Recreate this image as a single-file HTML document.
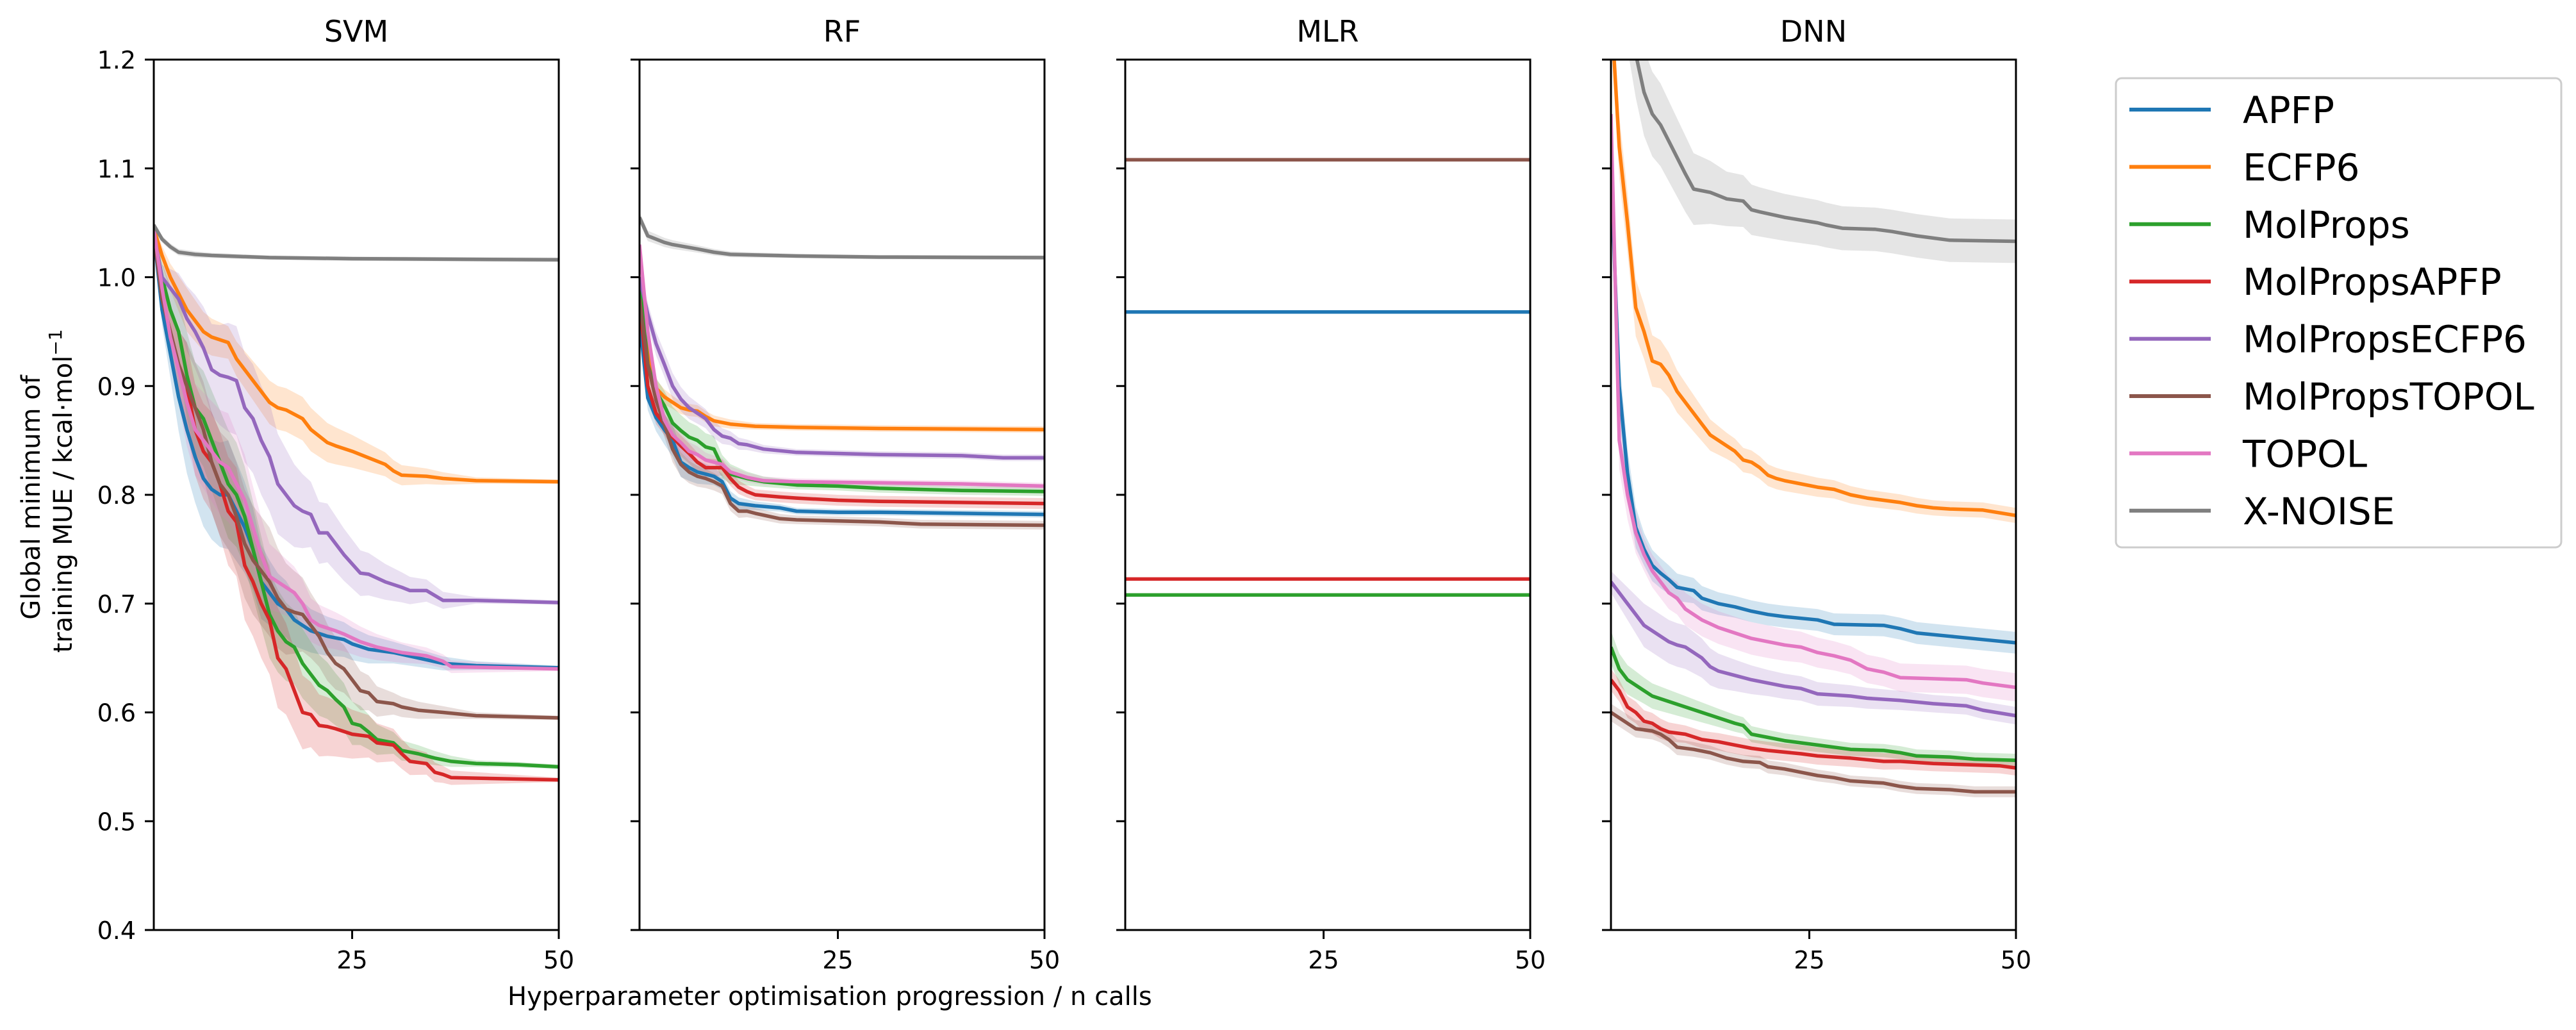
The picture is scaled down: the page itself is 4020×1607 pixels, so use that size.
<!DOCTYPE html>
<html><head><meta charset="utf-8">
<style>
html,body{margin:0;padding:0;background:#fff;}
svg{display:block;font-family:"DejaVu Sans","Liberation Sans",sans-serif;}
</style></head>
<body>
<svg id="chart" width="4020" height="1607" viewBox="0 0 4020 1607" xmlns="http://www.w3.org/2000/svg">
<g id="layer-bands"></g>
<g id="layer-lines"></g>
<g id="layer-axes"></g>
<g id="legend"></g>
</svg>
<script>
// ---- data ----
const panelTitles = ["SVM","RF","MLR","DNN"];
const seriesNames = ["APFP","ECFP6","MolProps","MolPropsAPFP","MolPropsECFP6","MolPropsTOPOL","TOPOL","X-NOISE"];
const seriesColors = ["#1f77b4","#ff7f0e","#2ca02c","#d62728","#9467bd","#8c564b","#e377c2","#7f7f7f"];
const yTicks = [0.4,0.5,0.6,0.7,0.8,0.9,1.0,1.1,1.2];
const yTickLabels = ["0.4","0.5","0.6","0.7","0.8","0.9","1.0","1.1","1.2"];
const xTicks = [25,50];
const xTickLabels = ["25","50"];
const bandN = [1,5,10,15,20,30,40,50];

// SVM
const svm_APFP_n = [1,2,3,4,5,6,7,8,9,10,11,12,13,14,15,16,17,18,19,20,22,24,25,27,30,33,36,40,50];
const svm_APFP_v = [1.04,0.97,0.93,0.89,0.86,0.835,0.815,0.805,0.80,0.80,0.785,0.77,0.75,0.72,0.71,0.70,0.695,0.685,0.68,0.675,0.67,0.667,0.663,0.658,0.655,0.65,0.645,0.643,0.641];
const svm_APFP_s = [0.005,0.04,0.05,0.03,0.02,0.01,0.004,0.002];
const svm_ECFP6_n = [1,2,3,5,7,8,10,11,13,15,16,17,19,20,22,23,25,27,29,30,31,34,36,40,50];
const svm_ECFP6_v = [1.045,1.02,1.0,0.97,0.95,0.945,0.94,0.925,0.905,0.885,0.88,0.878,0.87,0.86,0.848,0.845,0.84,0.834,0.828,0.822,0.818,0.817,0.815,0.813,0.812];
const svm_ECFP6_s = [0.005,0.02,0.015,0.02,0.02,0.01,0.003,0.002];
const svm_MolProps_n = [1,2,3,4,5,6,7,8,9,10,11,12,13,14,15,16,17,18,19,20,21,22,23,24,25,26,27,28,30,31,33,35,37,40,45,50];
const svm_MolProps_v = [1.04,1.0,0.97,0.95,0.91,0.88,0.87,0.85,0.83,0.81,0.80,0.78,0.75,0.72,0.69,0.675,0.665,0.66,0.645,0.635,0.625,0.62,0.612,0.605,0.59,0.588,0.582,0.575,0.572,0.565,0.562,0.558,0.555,0.553,0.552,0.55];
const svm_MolProps_s = [0.005,0.04,0.05,0.04,0.03,0.01,0.003,0.002];
const svm_MolPropsAPFP_n = [1,2,3,4,5,6,7,8,9,10,11,12,13,14,15,16,17,18,19,20,21,22,23,25,27,28,30,31,32,34,35,36,37,50];
const svm_MolPropsAPFP_v = [1.04,0.98,0.95,0.92,0.90,0.86,0.84,0.83,0.81,0.785,0.775,0.735,0.72,0.70,0.685,0.65,0.64,0.62,0.60,0.598,0.588,0.587,0.585,0.58,0.578,0.572,0.57,0.562,0.555,0.553,0.545,0.543,0.54,0.538];
const svm_MolPropsAPFP_s = [0.005,0.04,0.05,0.05,0.03,0.015,0.003,0.002];
const svm_MolPropsECFP6_n = [1,2,3,4,5,6,7,8,9,10,11,12,13,14,15,16,17,18,19,20,21,22,23,24,26,27,29,31,32,34,36,40,45,50];
const svm_MolPropsECFP6_v = [1.04,1.0,0.99,0.98,0.962,0.95,0.935,0.915,0.91,0.908,0.905,0.88,0.87,0.85,0.835,0.81,0.80,0.79,0.785,0.782,0.765,0.765,0.755,0.745,0.728,0.727,0.72,0.715,0.712,0.712,0.703,0.703,0.702,0.701];
const svm_MolPropsECFP6_s = [0.005,0.03,0.05,0.05,0.03,0.015,0.003,0.002];
const svm_MolPropsTOPOL_n = [1,2,3,4,5,6,7,8,9,10,11,12,13,14,15,16,17,18,19,20,21,22,23,24,25,26,27,28,30,31,33,36,40,50];
const svm_MolPropsTOPOL_v = [1.04,0.98,0.95,0.92,0.90,0.88,0.86,0.83,0.81,0.80,0.78,0.755,0.74,0.73,0.72,0.705,0.695,0.692,0.69,0.68,0.67,0.655,0.645,0.64,0.63,0.62,0.618,0.61,0.608,0.605,0.602,0.60,0.597,0.595];
const svm_MolPropsTOPOL_s = [0.005,0.04,0.05,0.05,0.03,0.01,0.003,0.002];
const svm_TOPOL_n = [1,2,3,4,5,6,7,8,9,10,11,12,13,14,15,16,17,18,19,20,21,23,24,26,28,31,34,36,37,50];
const svm_TOPOL_v = [1.045,0.99,0.945,0.915,0.885,0.86,0.85,0.84,0.83,0.825,0.81,0.795,0.77,0.745,0.725,0.72,0.715,0.71,0.70,0.685,0.68,0.675,0.672,0.665,0.66,0.655,0.652,0.647,0.642,0.64];
const svm_TOPOL_s = [0.005,0.04,0.05,0.03,0.02,0.01,0.004,0.002];
const svm_XNOISE_n = [1,2,3,4,6,8,15,25,50];
const svm_XNOISE_v = [1.048,1.035,1.028,1.023,1.021,1.02,1.018,1.017,1.016];
const svm_XNOISE_s = [0.003,0.003,0.002,0.002,0.002,0.002,0.002,0.002];

// RF
const rf_APFP_n = [1,2,3,4,5,6,7,8,9,10,11,12,13,15,18,20,25,30,40,50];
const rf_APFP_v = [0.96,0.889,0.871,0.86,0.85,0.83,0.825,0.821,0.819,0.817,0.812,0.797,0.792,0.79,0.788,0.785,0.784,0.784,0.783,0.782];
const rf_APFP_s = [0.01,0.015,0.008,0.004,0.003,0.003,0.003,0.003];
const rf_ECFP6_n = [1,2,3,4,5,6,7,8,9,10,12,15,20,30,50];
const rf_ECFP6_v = [1.0,0.932,0.898,0.89,0.885,0.88,0.878,0.877,0.872,0.868,0.865,0.863,0.862,0.861,0.86];
const rf_ECFP6_s = [0.01,0.006,0.005,0.003,0.003,0.003,0.003,0.003];
const rf_MolProps_n = [1,2,3,4,5,6,7,8,9,10,11,12,14,16,20,25,30,40,50];
const rf_MolProps_v = [1.0,0.92,0.895,0.882,0.866,0.859,0.853,0.85,0.844,0.842,0.826,0.819,0.815,0.812,0.809,0.808,0.806,0.804,0.803];
const rf_MolProps_s = [0.01,0.015,0.012,0.005,0.004,0.004,0.004,0.004];
const rf_MolPropsAPFP_n = [1,2,3,4,5,6,7,8,9,10,11,12,13,14,15,18,20,25,30,50];
const rf_MolPropsAPFP_v = [0.98,0.90,0.875,0.865,0.853,0.845,0.838,0.83,0.825,0.825,0.825,0.815,0.807,0.803,0.80,0.798,0.797,0.795,0.794,0.792];
const rf_MolPropsAPFP_s = [0.01,0.01,0.008,0.005,0.005,0.005,0.005,0.005];
const rf_MolPropsECFP6_n = [1,2,3,4,5,6,7,8,9,10,11,12,13,14,16,20,25,30,40,45,50];
const rf_MolPropsECFP6_v = [1.0,0.966,0.939,0.92,0.90,0.888,0.88,0.875,0.87,0.86,0.854,0.852,0.847,0.846,0.842,0.839,0.838,0.837,0.836,0.834,0.834];
const rf_MolPropsECFP6_s = [0.01,0.012,0.008,0.004,0.003,0.003,0.003,0.003];
const rf_MolPropsTOPOL_n = [1,2,3,4,5,6,7,8,9,10,11,12,13,14,15,18,20,25,30,35,50];
const rf_MolPropsTOPOL_v = [0.98,0.92,0.887,0.865,0.842,0.828,0.821,0.817,0.815,0.812,0.808,0.792,0.785,0.785,0.783,0.778,0.777,0.776,0.775,0.773,0.772];
const rf_MolPropsTOPOL_s = [0.01,0.012,0.008,0.005,0.004,0.004,0.004,0.004];
const rf_TOPOL_n = [1,2,3,4,5,6,7,8,9,10,11,12,14,16,20,30,40,50];
const rf_TOPOL_v = [1.03,0.95,0.90,0.869,0.855,0.848,0.84,0.837,0.832,0.83,0.828,0.821,0.816,0.813,0.812,0.811,0.81,0.808];
const rf_TOPOL_s = [0.01,0.01,0.006,0.004,0.003,0.003,0.003,0.003];
const rf_XNOISE_n = [1,2,3,4,5,8,10,12,20,30,50];
const rf_XNOISE_v = [1.055,1.038,1.035,1.032,1.03,1.026,1.023,1.021,1.0195,1.0185,1.018];
const rf_XNOISE_s = [0.005,0.004,0.003,0.002,0.002,0.002,0.002,0.002];

// MLR (constant)
const mlr_APFP_n = [1,50];            const mlr_APFP_v = [0.968,0.968];
const mlr_MolProps_n = [1,50];        const mlr_MolProps_v = [0.708,0.708];
const mlr_MolPropsAPFP_n = [1,50];    const mlr_MolPropsAPFP_v = [0.7226,0.7226];
const mlr_MolPropsTOPOL_n = [1,50];   const mlr_MolPropsTOPOL_v = [1.108,1.108];
const mlr_s = [0,0,0,0,0,0,0,0];

// DNN
const dnn_APFP_n = [1,2,3,4,5,6,7,8,9,11,12,14,16,18,20,22,26,28,34,36,38,42,46,50];
const dnn_APFP_v = [1.10,0.90,0.82,0.77,0.75,0.735,0.728,0.722,0.715,0.712,0.705,0.70,0.697,0.693,0.69,0.688,0.685,0.681,0.68,0.677,0.673,0.67,0.667,0.664];
const dnn_APFP_s = [0.03,0.015,0.012,0.01,0.01,0.01,0.01,0.01];
const dnn_ECFP6_n = [1,2,3,4,5,6,7,8,9,10,11,12,13,14,15,16,17,18,19,20,21,22,24,26,28,30,32,34,36,38,40,42,46,50];
const dnn_ECFP6_v = [1.25,1.12,1.05,0.972,0.95,0.923,0.92,0.91,0.895,0.885,0.875,0.865,0.855,0.85,0.845,0.84,0.832,0.83,0.825,0.818,0.815,0.813,0.81,0.807,0.805,0.80,0.797,0.795,0.793,0.79,0.788,0.787,0.786,0.781];
const dnn_ECFP6_s = [0.03,0.025,0.018,0.012,0.01,0.008,0.007,0.007];
const dnn_MolProps_n = [1,2,3,4,5,6,8,10,12,14,16,17,18,20,22,24,26,28,30,34,36,38,42,45,50];
const dnn_MolProps_v = [0.66,0.64,0.63,0.625,0.62,0.615,0.61,0.605,0.60,0.595,0.59,0.588,0.58,0.577,0.574,0.572,0.57,0.568,0.566,0.565,0.563,0.56,0.559,0.557,0.556];
const dnn_MolProps_s = [0.015,0.012,0.01,0.008,0.007,0.006,0.006,0.006];
const dnn_MolPropsAPFP_n = [1,2,3,4,5,6,7,8,10,12,14,16,18,20,24,26,30,34,36,40,44,48,50];
const dnn_MolPropsAPFP_v = [0.63,0.62,0.605,0.60,0.592,0.59,0.585,0.582,0.58,0.575,0.573,0.57,0.567,0.565,0.562,0.56,0.558,0.555,0.555,0.553,0.552,0.551,0.549];
const dnn_MolPropsAPFP_s = [0.01,0.01,0.008,0.008,0.008,0.008,0.007,0.007];
const dnn_MolPropsECFP6_n = [1,2,3,4,5,6,7,8,9,10,11,12,13,14,16,18,20,22,24,26,28,30,32,36,40,44,46,50];
const dnn_MolPropsECFP6_v = [0.72,0.71,0.70,0.69,0.68,0.675,0.67,0.665,0.662,0.66,0.655,0.65,0.642,0.638,0.634,0.63,0.627,0.624,0.622,0.617,0.616,0.615,0.613,0.611,0.608,0.606,0.602,0.597];
const dnn_MolPropsECFP6_s = [0.01,0.02,0.02,0.015,0.012,0.01,0.008,0.008];
const dnn_MolPropsTOPOL_n = [1,2,3,4,6,7,8,9,11,13,15,17,19,20,22,24,26,28,30,34,36,38,42,45,50];
const dnn_MolPropsTOPOL_v = [0.60,0.595,0.59,0.585,0.583,0.58,0.575,0.568,0.566,0.563,0.558,0.555,0.554,0.55,0.548,0.545,0.542,0.54,0.537,0.535,0.532,0.53,0.529,0.527,0.527];
const dnn_MolPropsTOPOL_s = [0.008,0.008,0.007,0.006,0.006,0.005,0.005,0.005];
const dnn_TOPOL_n = [1,2,3,4,5,6,7,8,9,10,11,12,14,16,18,20,22,24,26,28,30,32,34,36,40,44,46,50];
const dnn_TOPOL_v = [1.15,0.85,0.80,0.765,0.745,0.73,0.72,0.71,0.705,0.695,0.69,0.685,0.678,0.673,0.668,0.665,0.662,0.66,0.655,0.652,0.648,0.64,0.637,0.632,0.631,0.63,0.627,0.623];
const dnn_TOPOL_s = [0.03,0.015,0.015,0.015,0.015,0.013,0.013,0.013];
const dnn_XNOISE_n = [3,4,5,6,7,8,9,10,11,13,15,17,18,19,22,26,27,29,33,35,38,42,50];
const dnn_XNOISE_v = [1.25,1.205,1.17,1.15,1.14,1.125,1.11,1.095,1.081,1.078,1.072,1.07,1.062,1.06,1.055,1.05,1.048,1.045,1.044,1.042,1.038,1.034,1.033];
const dnn_XNOISE_s = [0.04,0.04,0.035,0.025,0.022,0.02,0.02,0.02];

const panelSeries = [
 [[svm_APFP_n,svm_APFP_v,svm_APFP_s],[svm_ECFP6_n,svm_ECFP6_v,svm_ECFP6_s],[svm_MolProps_n,svm_MolProps_v,svm_MolProps_s],[svm_MolPropsAPFP_n,svm_MolPropsAPFP_v,svm_MolPropsAPFP_s],[svm_MolPropsECFP6_n,svm_MolPropsECFP6_v,svm_MolPropsECFP6_s],[svm_MolPropsTOPOL_n,svm_MolPropsTOPOL_v,svm_MolPropsTOPOL_s],[svm_TOPOL_n,svm_TOPOL_v,svm_TOPOL_s],[svm_XNOISE_n,svm_XNOISE_v,svm_XNOISE_s]],
 [[rf_APFP_n,rf_APFP_v,rf_APFP_s],[rf_ECFP6_n,rf_ECFP6_v,rf_ECFP6_s],[rf_MolProps_n,rf_MolProps_v,rf_MolProps_s],[rf_MolPropsAPFP_n,rf_MolPropsAPFP_v,rf_MolPropsAPFP_s],[rf_MolPropsECFP6_n,rf_MolPropsECFP6_v,rf_MolPropsECFP6_s],[rf_MolPropsTOPOL_n,rf_MolPropsTOPOL_v,rf_MolPropsTOPOL_s],[rf_TOPOL_n,rf_TOPOL_v,rf_TOPOL_s],[rf_XNOISE_n,rf_XNOISE_v,rf_XNOISE_s]],
 [[mlr_APFP_n,mlr_APFP_v,mlr_s],null,[mlr_MolProps_n,mlr_MolProps_v,mlr_s],[mlr_MolPropsAPFP_n,mlr_MolPropsAPFP_v,mlr_s],null,[mlr_MolPropsTOPOL_n,mlr_MolPropsTOPOL_v,mlr_s],null,null],
 [[dnn_APFP_n,dnn_APFP_v,dnn_APFP_s],[dnn_ECFP6_n,dnn_ECFP6_v,dnn_ECFP6_s],[dnn_MolProps_n,dnn_MolProps_v,dnn_MolProps_s],[dnn_MolPropsAPFP_n,dnn_MolPropsAPFP_v,dnn_MolPropsAPFP_s],[dnn_MolPropsECFP6_n,dnn_MolPropsECFP6_v,dnn_MolPropsECFP6_s],[dnn_MolPropsTOPOL_n,dnn_MolPropsTOPOL_v,dnn_MolPropsTOPOL_s],[dnn_TOPOL_n,dnn_TOPOL_v,dnn_TOPOL_s],[dnn_XNOISE_n,dnn_XNOISE_v,dnn_XNOISE_s]]
];

// ---- layout ----
const NS = "http://www.w3.org/2000/svg";
const panelLeft = [240, 998, 1756, 2514];
const panelW = 632;
const TOP = 93, BOT = 1451;
const X0 = 1, X1 = 50, Y0 = 0.4, Y1 = 1.2;
function xs(p, n){ return panelLeft[p] + (n - X0) / (X1 - X0) * panelW; }
function ys(v){ return BOT - (v - Y0) / (Y1 - Y0) * (BOT - TOP); }
function mk(tag, attrs, parent){ const e = document.createElementNS(NS, tag); for (const k in attrs) e.setAttribute(k, attrs[k]); parent.appendChild(e); return e; }
function bandAt(sArr, n){
  for (let i = 0; i < bandN.length - 1; i++){
    if (n <= bandN[i+1]){ const t = (n - bandN[i]) / (bandN[i+1] - bandN[i]); return sArr[i] + t * (sArr[i+1] - sArr[i]); }
  }
  return sArr[sArr.length-1];
}
const gB = document.getElementById("layer-bands");
const gL = document.getElementById("layer-lines");
const gA = document.getElementById("layer-axes");
const gLeg = document.getElementById("legend");

for (let p = 0; p < 4; p++){
  const clipId = "clip" + p;
  const cp = mk("clipPath", {id: clipId}, gB);
  mk("rect", {x: panelLeft[p], y: TOP, width: panelW, height: BOT - TOP}, cp);
  const gpB = mk("g", {"clip-path": "url(#" + clipId + ")"}, gB);
  
  
  const gpL = mk("g", {"clip-path": "url(#" + clipId + ")"}, gL);
  
  
  panelSeries[p].forEach((s, i) => {
    if (!s) return;
    const [nArr, vArr, sArr] = s;
    const maxS = Math.max(...sArr);
    if (maxS > 0){
      let up = [], dn = [];
      for (let k = 0; k < nArr.length; k++){
        const b = bandAt(sArr, nArr[k]);
        up.push(xs(p, nArr[k]).toFixed(1) + "," + ys(vArr[k] + b).toFixed(1));
        dn.unshift(xs(p, nArr[k]).toFixed(1) + "," + ys(vArr[k] - b).toFixed(1));
      }
      const band = mk("polygon", {points: up.concat(dn).join(" "), fill: seriesColors[i], "fill-opacity": 0.2, stroke: "none"}, gpB);
      
      
    }
    const pts = nArr.map((n, k) => xs(p, n).toFixed(1) + "," + ys(vArr[k]).toFixed(1)).join(" ");
    const line = mk("polyline", {points: pts, fill: "none", stroke: seriesColors[i], "stroke-width": 5.5, "stroke-linejoin": "round"}, gpL);
    
    
  });

  // axes
  const frame = mk("rect", {x: panelLeft[p], y: TOP, width: panelW, height: BOT - TOP, fill: "none", stroke: "#000", "stroke-width": 3}, gA);
  
  
  const title = mk("text", {x: panelLeft[p] + panelW/2, y: 65, "text-anchor": "middle", "font-size": 46}, gA);
  title.textContent = panelTitles[p];
  
  
  yTicks.forEach((t, k) => {
    const tk = mk("line", {x1: panelLeft[p] - 14, x2: panelLeft[p], y1: ys(t), y2: ys(t), stroke: "#000", "stroke-width": 3}, gA);
    
    
    if (p === 0){
      const lb = mk("text", {x: panelLeft[p] - 28, y: ys(t) + 14, "text-anchor": "end", "font-size": 38}, gA);
      lb.textContent = yTickLabels[k];
      
      
    }
  });
  xTicks.forEach((t, k) => {
    const tk = mk("line", {x1: xs(p, t), x2: xs(p, t), y1: BOT, y2: BOT + 14, stroke: "#000", "stroke-width": 3}, gA);
    
    
    const lb = mk("text", {x: xs(p, t), y: BOT + 60, "text-anchor": "middle", "font-size": 38}, gA);
    lb.textContent = xTickLabels[k];
    
    
  });
}

// axis titles
const xt = mk("text", {x: 792, y: 1568, "text-anchor": "start", "font-size": 40}, gA);
xt.textContent = "Hyperparameter optimisation progression / n calls";


const yt1 = mk("text", {x: 0, y: 0, "text-anchor": "middle", "font-size": 40, transform: "translate(62,776) rotate(-90)"}, gA);
yt1.textContent = "Global minimum of";


const yt2 = mk("text", {x: 0, y: 0, "text-anchor": "middle", "font-size": 40, transform: "translate(112,766) rotate(-90)"}, gA);


yt2.appendChild(document.createTextNode("training MUE / kcal·mol"));
const sup = mk("tspan", {"font-size": 28, dy: -16}, yt2);
sup.textContent = "−1";

// legend
const box = mk("rect", {x: 3302, y: 122, width: 695, height: 732, rx: 9, fill: "#fff", "fill-opacity": 0.8, stroke: "#cccccc", "stroke-width": 3}, gLeg);


seriesNames.forEach((name, i) => {
  const y = 171 + i * 89.4;
  const g = mk("g", {}, gLeg);
  
  
  mk("line", {x1: 3323, x2: 3450, y1: y, y2: y, stroke: seriesColors[i], "stroke-width": 6}, g);
  const t = mk("text", {x: 3500, y: y + 21, "font-size": 58}, g);
  t.textContent = name;
});
</script>
</body></html>
